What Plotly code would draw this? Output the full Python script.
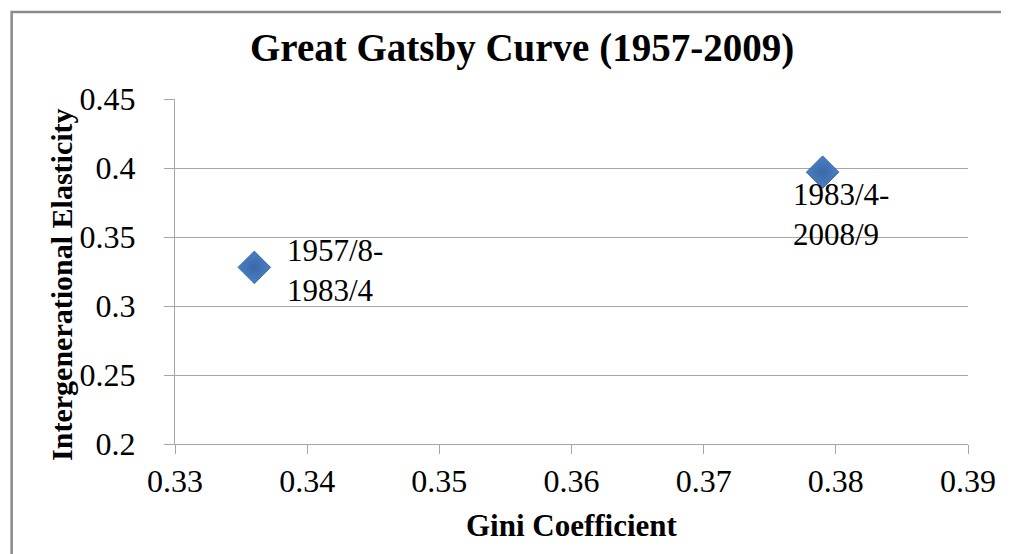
import plotly.graph_objects as go

# Data
gini = [0.336, 0.379]
elasticity = [0.328, 0.397]
period_labels = ["1957/8-<br>1983/4", "1983/4-<br>2008/9"]
x_ticks = [0.33, 0.34, 0.35, 0.36, 0.37, 0.38, 0.39]
x_tick_text = ["0.33", "0.34", "0.35", "0.36", "0.37", "0.38", "0.39"]
y_ticks = [0.2, 0.25, 0.3, 0.35, 0.4, 0.45]
y_tick_text = ["0.2", "0.25", "0.3", "0.35", "0.4", "0.45"]

SERIF = "Liberation Serif, Times New Roman, serif"
GRID = "#a6a6a6"
FRAME = "#8a8a8a"

fig = go.Figure()
fig.add_trace(go.Scatter(
    x=gini, y=elasticity, mode="markers",
    marker=dict(symbol="diamond", size=25, color="#4a7fc4",
                gradient=dict(type="radial", color="#3a68a8"),
                line=dict(color="#3c6aa8", width=1)),
    hoverinfo="x+y", showlegend=False,
))

# point labels
label_pos = [
    dict(xanchor="left", yanchor="middle", xshift=31, yshift=-3),
    dict(xanchor="left", yanchor="middle", xshift=-32, yshift=-42),
]
for gx, ey, txt, p in zip(gini, elasticity, period_labels, label_pos):
    fig.add_annotation(x=gx, y=ey, text=txt, showarrow=False, align="left",
                       font=dict(family=SERIF, size=31, color="#000000"), **p)

# title and axis titles
fig.add_annotation(xref="paper", yref="paper", x=0.437, y=1.148,
                   text="<b>Great Gatsby Curve (1957-2009)</b>", showarrow=False,
                   xanchor="center", yanchor="middle",
                   font=dict(family=SERIF, size=39, color="#000000"))
fig.add_annotation(xref="paper", yref="paper", x=0.5, y=-0.235,
                   text="<b>Gini Coefficient</b>", showarrow=False,
                   xanchor="center", yanchor="middle",
                   font=dict(family=SERIF, size=31, color="#000000"))
fig.add_annotation(xref="paper", yref="paper", x=-0.143, y=0.46,
                   text="<b>Intergenerational Elasticity</b>", showarrow=False,
                   textangle=-90, xanchor="center", yanchor="middle",
                   font=dict(family=SERIF, size=30, color="#000000"))

# outer frame (top and left edges)
fig.add_shape(type="path", xref="paper", yref="paper",
              path="M -0.206 -0.4 L -0.206 1.252 L 1.1 1.252",
              line=dict(color=FRAME, width=2.5))

fig.update_layout(
    width=1001, height=546,
    margin=dict(l=167, r=41, t=91, b=110),
    paper_bgcolor="white", plot_bgcolor="white",
    font=dict(family=SERIF, size=30, color="#000000"),
)
fig.update_xaxes(range=[0.33, 0.39], tickvals=x_ticks, ticktext=x_tick_text,
                 showgrid=False, zeroline=False, showline=True, linecolor=GRID,
                 linewidth=1, ticks="outside", ticklen=9, tickcolor=GRID,
                 ticklabelstandoff=0,
                 tickfont=dict(family=SERIF, size=32, color="#000000"))
fig.update_yaxes(range=[0.2, 0.45], tickvals=y_ticks, ticktext=y_tick_text,
                 showgrid=True, gridcolor=GRID, gridwidth=1, zeroline=False,
                 showline=True, linecolor=GRID, linewidth=1,
                 ticks="outside", ticklen=10, tickcolor=GRID,
                 ticklabelstandoff=22,
                 tickfont=dict(family=SERIF, size=32, color="#000000"))

fig.write_html("out.html")
